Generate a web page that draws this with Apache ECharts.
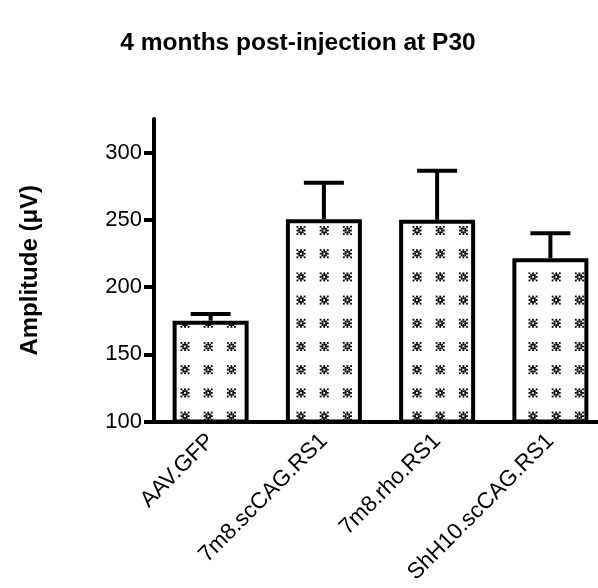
<!DOCTYPE html>
<html>
<head>
<meta charset="utf-8">
<script src="https://cdn.jsdelivr.net/npm/echarts@6/dist/echarts.min.js"></script>
<style>
  html, body { margin: 0; padding: 0; background: #fff; }
  #chart { width: 598px; height: 588px; }
</style>
</head>
<body>
<div id="chart"></div>
<script>
// Groups and their mean amplitude with the SEM drawn as an upper error bar
const groups = ['AAV.GFP', '7m8.scCAG.RS1', '7m8.rho.RS1', 'ShH10.scCAG.RS1'];
const meanValues = [175, 250.5, 250, 221.5];
const semValues = [5, 27, 36.5, 18.5];
const yTicks = [100, 150, 200, 250, 300];

const FONT = '"Liberation Sans", Arial, sans-serif';

// Dotted fill: a small "※"-like glyph repeated on a ~23 px grid
function makeDotPattern() {
  const size = 116, step = size / 5, cell = 1.8;
  const glyph = [
    [1, 0, 1, 0, 1],
    [0, 1, 1, 1, 0],
    [1, 1, 0, 1, 1],
    [0, 1, 1, 1, 0],
    [1, 0, 1, 0, 1]
  ];
  const c = document.createElement('canvas');
  c.width = size; c.height = size;
  const ctx = c.getContext('2d');
  ctx.fillStyle = '#fff';
  ctx.fillRect(0, 0, size, size);
  ctx.fillStyle = '#000';
  for (let gx = 0; gx < 6; gx++) {
    for (let gy = 0; gy < 6; gy++) {
      const cx = gx * step - 0.6, cy = gy * step - 1.5;
      for (let r = 0; r < 5; r++) {
        for (let k = 0; k < 5; k++) {
          if (glyph[r][k]) {
            ctx.fillRect(cx - 4.5 + k * cell, cy - 4.5 + r * cell, cell, cell);
          }
        }
      }
    }
  }
  return c;
}

const chart = echarts.init(document.getElementById('chart'), null, { renderer: 'canvas' });

chart.setOption({
  animation: false,
  backgroundColor: '#fff',
  title: {
    text: '4 months post-injection at P30',
    left: 293,
    textAlign: 'center',
    top: 26,
    textStyle: { fontFamily: FONT, fontSize: 24.5, fontWeight: 'bold', color: '#000' }
  },
  grid: {
    left: 154, top: 119, width: 453, bottom: 166.5,
    containLabel: false, outerBoundsMode: 'none'
  },
  xAxis: {
    type: 'category',
    data: groups,
    axisLine: { lineStyle: { color: '#000', width: 4 } },
    axisTick: { alignWithLabel: true, length: 10, lineStyle: { color: '#000', width: 4 } },
    axisLabel: {
      interval: 0, rotate: 45, margin: 16,
      fontFamily: FONT, fontSize: 22.5, color: '#000'
    },
    splitLine: { show: false }
  },
  yAxis: {
    type: 'value',
    min: 100, max: 325, interval: 50,
    name: 'Amplitude (\u03bcV)',
    nameLocation: 'middle',
    nameGap: 112,
    nameTextStyle: { fontFamily: FONT, fontSize: 24, fontWeight: 'bold', color: '#000' },
    axisLine: { show: true, lineStyle: { color: '#000', width: 4 } },
    axisTick: { show: true, length: 10, customValues: yTicks, lineStyle: { color: '#000', width: 4 } },
    axisLabel: { margin: 12, customValues: yTicks, fontFamily: FONT, fontSize: 22, color: '#000' },
    splitLine: { show: false }
  },
  series: [
    {
      type: 'bar',
      data: meanValues,
      barWidth: 76,
      itemStyle: {
        color: { image: makeDotPattern(), repeat: 'repeat' },
        borderColor: '#000',
        borderWidth: 4
      },
      z: 2
    },
    {
      type: 'custom',
      data: meanValues.map((m, i) => [i, m, m + semValues[i]]),
      renderItem: function (params, api) {
        const base = api.coord([api.value(0), api.value(1)]);
        const top = api.coord([api.value(0), api.value(2)]);
        const half = 20;
        const style = { stroke: '#000', lineWidth: 4 };
        return {
          type: 'group',
          children: [
            { type: 'line', shape: { x1: base[0], y1: base[1], x2: top[0], y2: top[1] }, style: style },
            { type: 'line', shape: { x1: top[0] - half, y1: top[1], x2: top[0] + half, y2: top[1] }, style: style }
          ]
        };
      },
      z: 3
    }
  ]
});
</script>
</body>
</html>
